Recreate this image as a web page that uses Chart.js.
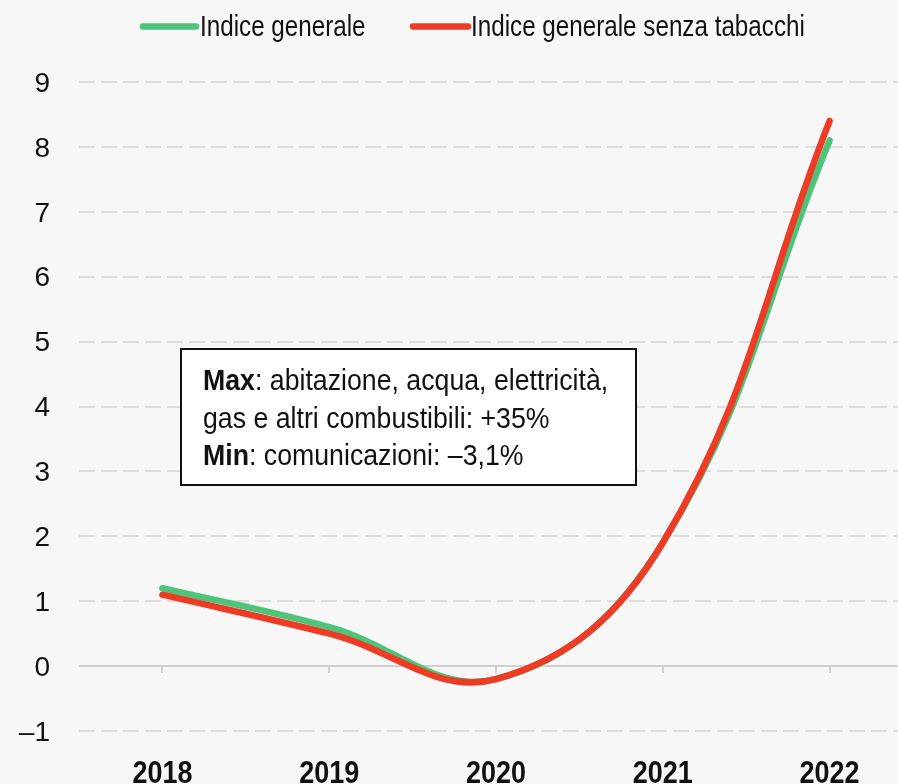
<!DOCTYPE html>
<html>
<head>
<meta charset="utf-8">
<script src="https://cdn.jsdelivr.net/npm/chart.js@4/dist/chart.umd.min.js"></script>
<style>
  html, body { margin: 0; padding: 0; background: #f7f7f7; }
  #wrap { width: 898px; height: 784px; }
</style>
</head>
<body>
<div id="wrap"><canvas id="chart" width="898" height="784"></canvas></div>
<script>
// inflation by year, %
const years = [2018, 2019, 2020, 2021, 2022];
const indiceGenerale = [1.2, 0.6, -0.2, 1.9, 8.1];
const senzaTabacchi = [1.1, 0.5, -0.2, 1.9, 8.4];
const yTicks = [-1, 0, 1, 2, 3, 4, 5, 6, 7, 8, 9];
const seriesNames = ['Indice generale', 'Indice generale senza tabacchi'];
const seriesColors = ['#4ec47b', '#ee3b26'];
const noteLines = [
  ['Max', ': abitazione, acqua, elettricità,'],
  ['', 'gas e altri combustibili: +35%'],
  ['Min', ': comunicazioni: \u20133,1%']
];

const SANS = '"Liberation Sans", Arial, sans-serif';

function toPoints(vals) {
  return vals.map((v, i) => ({ x: years[i], y: v }));
}

// condensed text: regular face squeezed horizontally
function narrowText(ctx, text, x, y, font, squeeze, align) {
  ctx.save();
  ctx.font = font;
  ctx.textAlign = align || 'left';
  ctx.translate(x, y);
  ctx.scale(squeeze, 1);
  ctx.fillText(text, 0, 0);
  const w = ctx.measureText(text).width * squeeze;
  ctx.restore();
  return w;
}

// legend, zero-line ticks, year labels and the text box
const extras = {
  id: 'extras',
  afterDatasetsDraw(chart) {
    const ctx = chart.ctx;
    const x = chart.scales.x, y = chart.scales.y;
    const y0 = y.getPixelForValue(0);
    ctx.save();
    ctx.strokeStyle = '#d0d0d0';
    ctx.lineWidth = 2;
    years.forEach(yr => {
      const px = Math.round(x.getPixelForValue(yr));
      ctx.beginPath();
      ctx.moveTo(px, y0);
      ctx.lineTo(px, y0 + 7);
      ctx.stroke();
    });
    ctx.restore();
  },
  afterDraw(chart) {
    const ctx = chart.ctx;
    const x = chart.scales.x;
    ctx.save();
    ctx.fillStyle = '#111';
    ctx.textBaseline = 'alphabetic';

    // year labels
    years.forEach(yr => {
      narrowText(ctx, String(yr), x.getPixelForValue(yr), 783, 'bold 31px ' + SANS, 0.87, 'center');
    });

    // legend
    const items = [
      { x1: 143, x2: 196, tx: 200 },
      { x1: 413, x2: 468, tx: 471 }
    ];
    ctx.lineCap = 'round';
    items.forEach((it, i) => {
      ctx.strokeStyle = seriesColors[i];
      ctx.lineWidth = 6.5;
      ctx.beginPath();
      ctx.moveTo(it.x1, 26.5);
      ctx.lineTo(it.x2, 26.5);
      ctx.stroke();
      ctx.fillStyle = '#111';
      narrowText(ctx, seriesNames[i], it.tx, 36, '29px ' + SANS, 0.835);
    });

    // note box
    ctx.fillStyle = '#ffffff';
    ctx.fillRect(181, 349, 455, 136);
    ctx.strokeStyle = '#111';
    ctx.lineWidth = 2;
    ctx.strokeRect(181, 349, 455, 136);
    ctx.fillStyle = '#111';
    noteLines.forEach((ln, i) => {
      const by = 390 + i * 37.5;
      let tx = 203;
      if (ln[0]) {
        tx += narrowText(ctx, ln[0], tx, by, 'bold 30px ' + SANS, 0.89);
      }
      narrowText(ctx, ln[1], tx, by, '30px ' + SANS, 0.89);
    });
    ctx.restore();
  }
};

new Chart(document.getElementById('chart'), {
  type: 'line',
  data: {
    datasets: [
      {
        label: seriesNames[0],
        data: toPoints(indiceGenerale),
        borderColor: seriesColors[0],
        order: 2
      },
      {
        label: seriesNames[1],
        data: toPoints(senzaTabacchi),
        borderColor: seriesColors[1],
        order: 1
      }
    ]
  },
  options: {
    responsive: false,
    animation: false,
    layout: { padding: { top: 82, right: 0, left: 0, bottom: 0 } },
    elements: {
      line: { borderWidth: 6.5, tension: 0.4, borderCapStyle: 'round', borderJoinStyle: 'round' },
      point: { radius: 0, hoverRadius: 0 }
    },
    plugins: { legend: { display: false }, tooltip: { enabled: false } },
    scales: {
      x: {
        type: 'linear',
        min: 2017.5,
        max: 2022.41,
        afterBuildTicks: s => { s.ticks = years.map(v => ({ value: v })); },
        afterFit: s => { s.height = 53; },
        grid: { display: false },
        border: { display: false },
        ticks: { display: false }
      },
      y: {
        min: -1,
        max: 9,
        afterBuildTicks: s => { s.ticks = yTicks.map(v => ({ value: v })); },
        afterFit: s => { s.width = 79; },
        border: {
          display: false,
          dash: c => c.tick && c.tick.value === 0 ? [] : [16, 6]
        },
        grid: {
          drawTicks: false,
          lineWidth: 2,
          color: c => c.tick && c.tick.value === 0 ? '#d0d0d0' : '#dddddd'
        },
        ticks: {
          padding: 29,
          labelOffset: 2,
          color: '#111',
          font: { family: SANS, size: 28 },
          callback: v => v < 0 ? '\u2013' + Math.abs(v) : String(v)
        }
      }
    }
  },
  plugins: [extras]
});
</script>
</body>
</html>
